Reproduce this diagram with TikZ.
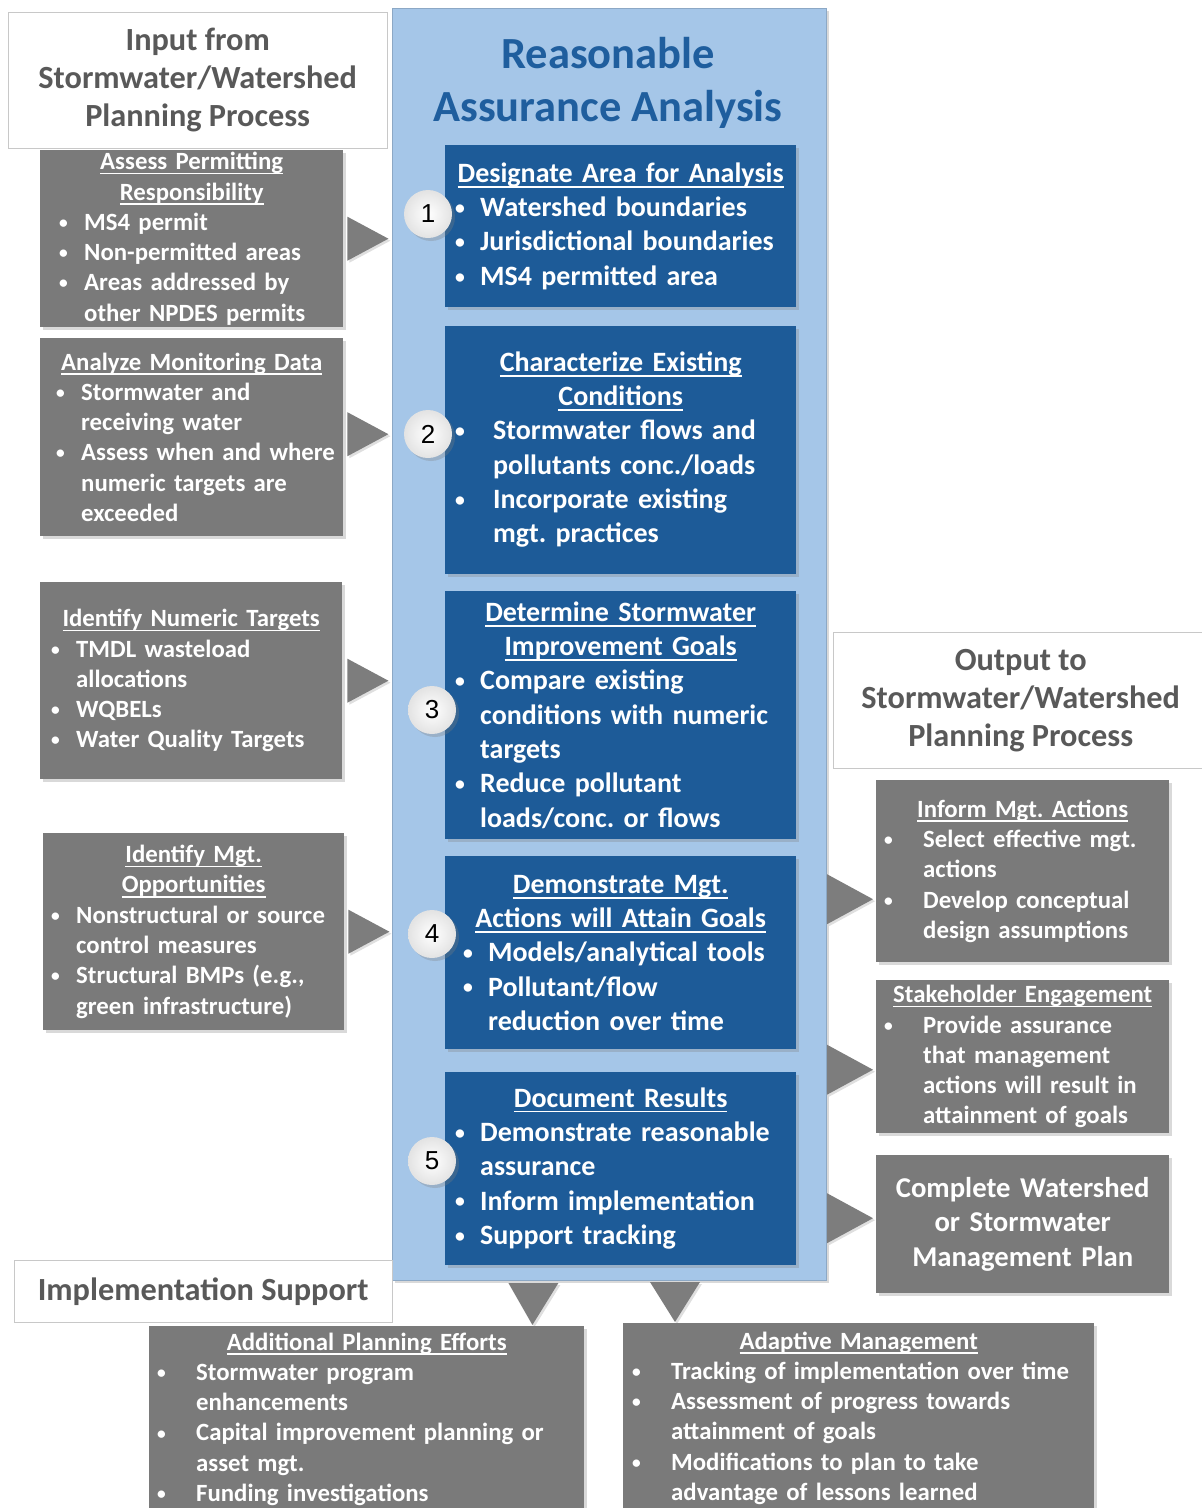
\documentclass[tikz,border=0pt]{standalone}
\usepackage{fontspec}
\setmainfont{Carlito}
\newfontfamily\numfont{Liberation Sans}
\usetikzlibrary{shapes,shadows,positioning}

\definecolor{panelblue}{RGB}{165,198,232}
\definecolor{boxblue}{RGB}{29,91,152}
\definecolor{titleblue}{RGB}{31,94,158}
\definecolor{boxgray}{RGB}{122,122,122}
\definecolor{trigray}{RGB}{125,125,125}
\definecolor{headgray}{RGB}{89,89,89}
\definecolor{framegray}{RGB}{200,200,200}

% bullet lists inside the boxes
\newlength\bulleft
\newlength\bulgap
\frenchspacing
\newcommand{\ulin}[1]{\leavevmode\setbox0\hbox{#1}\rlap{\rule[-0.19em]{\wd0}{0.07em}}\box0}
\newcommand{\hd}[1]{{\centering\ulin{#1}\par}}
\newcommand{\bul}[1]{\par\hangindent=\dimexpr\bulleft+\bulgap\relax\hangafter=1
  \noindent\hspace*{\bulleft}\makebox[\bulgap][l]{\raisebox{0.08em}{\scalebox{0.7}{\textbullet}}}{\def\\{\hfil\break}#1\par}}

\begin{document}
\begin{tikzpicture}[x=1pt, y=-1pt]
\tikzset{
  bl/.style 2 args={execute at begin node={\setlength\bulleft{#1pt}\setlength\bulgap{#2pt}}},
  softshadow/.style={drop shadow={shadow xshift=3pt, shadow yshift=-3pt, opacity=0.3}},
  panel/.style={fill=panelblue, draw=panelblue!85!black, line width=0.6pt, anchor=north west, inner sep=0pt, softshadow},
  gbox/.style={fill=boxgray, text=white, font=\fontsize{24.8}{30.3}\selectfont\bfseries,
    inner xsep=4pt, inner ysep=0pt, align=left, anchor=north west, softshadow},
  bbox/.style={fill=boxblue, text=white, font=\fontsize{28}{34.3}\selectfont\bfseries,
    inner xsep=4pt, inner ysep=0pt, align=left, anchor=north west, softshadow},
  hbox/.style={draw=framegray, fill=white, text=headgray, font=\fontsize{32.3}{38}\selectfont\bfseries,
    align=center, anchor=north west, inner sep=0pt},
  num/.style={circle, minimum size=48pt, inner sep=0pt, shading=radial, inner color=white,
    outer color=gray!22, font=\numfont\fontsize{26}{26}\selectfont, softshadow},
  tri/.style={fill=trigray, drop shadow={shadow xshift=2pt, shadow yshift=-2pt, opacity=0.25}}
}
\useasboundingbox (0,0) rectangle (1202,1508);
\clip (0,0) rectangle (1202,1508);

% the analysis panel in the middle
\node[panel, minimum width=434pt, minimum height=1272pt] (panel) at (392,8) {};
\node[text=titleblue, font=\fontsize{44.5}{53}\selectfont\bfseries, align=center] (title) at (608,83)
  {Reasonable\\Assurance Analysis};

\node[bbox, minimum width=351pt, text width=343pt, minimum height=162pt, bl={6}{25}] (s1) at (445,145)
  {\hd{Designate Area for Analysis}\bul{Watershed boundaries}\bul{Jurisdictional boundaries}\bul{MS4 permitted area}};
\node[bbox, minimum width=351pt, text width=343pt, minimum height=248pt, bl={6}{38}, below=18pt of s1] (s2)
  {\hd{Characterize Existing}\hd{Conditions}\bul{Stormwater flows and\\pollutants conc./loads}\bul{Incorporate existing\\mgt. practices}};
\node[bbox, minimum width=351pt, text width=343pt, minimum height=248pt, bl={6}{25}, below=17pt of s2] (s3)
  {\hd{Determine Stormwater}\hd{Improvement Goals}\bul{Compare existing\\conditions with numeric\\targets}\bul{Reduce pollutant\\loads/conc. or flows}};
\node[bbox, minimum width=351pt, text width=343pt, minimum height=193pt, bl={14}{25}, below=17pt of s3] (s4)
  {\hd{Demonstrate Mgt.}\hd{Actions will Attain Goals}\bul{Models/analytical tools}\bul{Pollutant/flow\\reduction over time}};
\node[bbox, minimum width=351pt, text width=343pt, minimum height=193pt, bl={6}{25}, below=22pt of s4] (s5)
  {\hd{Document Results}\bul{Demonstrate reasonable\\assurance}\bul{Inform implementation}\bul{Support tracking}};

\node[num] (n1) at (428,214) {1};
\node[num] (n2) at (428,434) {2};
\node[num] (n3) at (432,710) {3};
\node[num] (n4) at (432,934) {4};
\node[num] (n5) at (432,1161) {5};

% inputs on the left
\node[hbox, minimum width=379pt, minimum height=136pt] (inhead) at (8,12)
  {Input from\\Stormwater/Watershed\\Planning Process};
\node[gbox, minimum width=303pt, text width=295pt, minimum height=177pt, bl={15}{25}] (assess) at (40,150)
  {\hd{Assess Permitting}\hd{Responsibility}\bul{MS4 permit}\bul{Non-permitted areas}\bul{Areas addressed by\\other NPDES permits}};
\node[gbox, minimum width=303pt, text width=295pt, minimum height=198pt, bl={12}{25}] (monitor) at (40,338)
  {\hd{Analyze Monitoring Data}\bul{Stormwater and\\receiving water}\bul{Assess when and where\\numeric targets are\\exceeded}};
\node[gbox, minimum width=302pt, text width=294pt, minimum height=197pt, bl={7}{25}] (targets) at (40,582)
  {\hd{Identify Numeric Targets}\bul{TMDL wasteload\\allocations}\bul{WQBELs}\bul{Water Quality Targets}};
\node[gbox, minimum width=301pt, text width=293pt, minimum height=197pt, bl={4}{25}] (opps) at (43,833)
  {\hd{Identify Mgt.}\hd{Opportunities}\bul{Nonstructural or source\\control measures}\bul{Structural BMPs (e.g.,\\green infrastructure)}};

% outputs on the right
\node[hbox, minimum width=375pt, minimum height=136pt] (outhead) at (833,632)
  {Output to\\Stormwater/Watershed\\Planning Process};
\node[gbox, minimum width=293pt, text width=285pt, minimum height=182pt, bl={4}{39}] (inform) at (876,780)
  {\hd{Inform Mgt. Actions}\bul{Select effective mgt.\\actions}\bul{Develop conceptual\\design assumptions}};
\node[gbox, minimum width=293pt, text width=285pt, minimum height=153pt, bl={4}{39}] (stake) at (876,980)
  {\hd{Stakeholder Engagement}\bul{Provide assurance\\that management\\actions will result in\\attainment of goals}};
\node[gbox, minimum width=293pt, text width=285pt, minimum height=138pt, align=center,
  font=\fontsize{28.7}{34.5}\selectfont\bfseries] (plan) at (876,1155)
  {Complete Watershed\\or Stormwater\\Management Plan};

% implementation at the bottom
\node[hbox, minimum width=378pt, minimum height=62pt] (implhead) at (14,1260) {Implementation Support};
\node[gbox, minimum width=435pt, text width=427pt, minimum height=186pt, bl={4}{39}] (addplan) at (149,1326)
  {\hd{Additional Planning Efforts}\bul{Stormwater program\\enhancements}\bul{Capital improvement planning or\\asset mgt.}\bul{Funding investigations}};
\node[gbox, minimum width=471pt, text width=463pt, minimum height=190pt, bl={5}{39}] (adapt) at (623,1323)
  {\hd{Adaptive Management}\bul{Tracking of implementation over time}\bul{Assessment of progress towards\\attainment of goals}\bul{Modifications to plan to take\\advantage of lessons learned}};

% the triangles between the boxes
\fill[tri] (assess.east) ++(4,-22) -- ++(41,22) -- ++(-41,22) -- cycle;
\fill[tri] (monitor.east) ++(4,-25) -- ++(41,22) -- ++(-41,22) -- cycle;
\fill[tri] (targets.east) ++(5,-22) -- ++(41,22) -- ++(-41,22) -- cycle;
\fill[tri] (opps.east) ++(4,-22) -- ++(41,22) -- ++(-41,22) -- cycle;
\fill[tri] (inform.west) ++(-49,3) -- ++(46,25) -- ++(-46,25) -- cycle;
\fill[tri] (stake.west) ++(-49,-12) -- ++(46,25) -- ++(-46,25) -- cycle;
\fill[tri] (plan.west) ++(-49,-31) -- ++(46,25) -- ++(-46,25) -- cycle;
\fill[tri] (addplan.north east) ++(-52,-1) -- ++(-24,-42) -- ++(50,0) -- cycle;
\fill[tri] (adapt.north west) ++(52,-1) -- ++(-25,-40) -- ++(50,0) -- cycle;
\end{tikzpicture}
\end{document}
